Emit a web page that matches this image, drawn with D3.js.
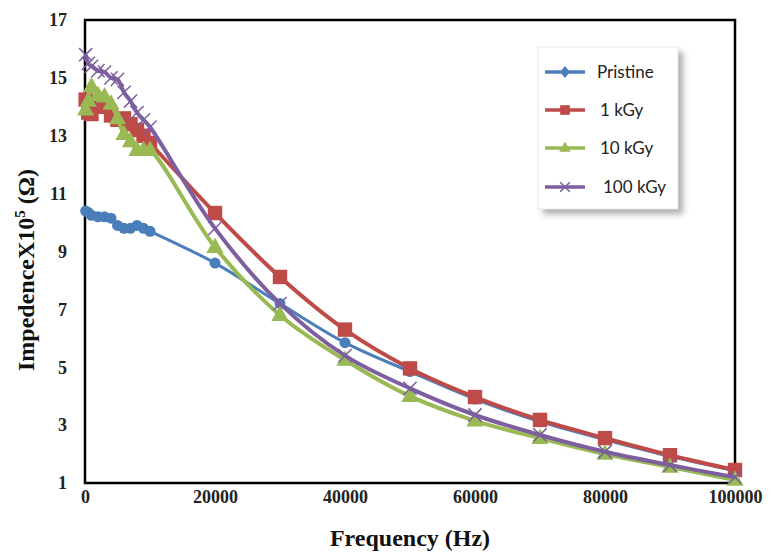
<!DOCTYPE html>
<html><head><meta charset="utf-8">
<script src="https://cdn.jsdelivr.net/npm/d3@7"></script>
<style>body{margin:0;background:#fff;} svg{display:block;}</style>
</head><body>
<script>
const frequencies = [100, 500, 1000, 2000, 3000, 4000, 5000, 6000, 7000, 8000, 9000, 10000,
  20000, 30000, 40000, 50000, 60000, 70000, 80000, 90000, 100000];
const pristine = [10.4, 10.35, 10.25, 10.2, 10.2, 10.15, 9.9, 9.8, 9.8, 9.9, 9.8, 9.7,
  8.6, 7.2, 5.85, 4.85, 3.9, 3.12, 2.5, 1.92, 1.42];
const kGy1 = [14.25, 13.8, 13.75, 14.1, 14.0, 13.7, 13.55, 13.6, 13.4, 13.2, 13.0, 12.75,
  10.33, 8.12, 6.3, 4.96, 3.97, 3.18, 2.55, 1.96, 1.45];
const kGy10 = [13.9, 14.2, 14.7, 14.4, 14.35, 14.1, 13.6, 13.05, 12.8, 12.5, 12.5, 12.5,
  9.15, 6.8, 5.25, 4.0, 3.15, 2.55, 2.0, 1.55, 1.1];
const kGy100 = [15.8, 15.5, 15.4, 15.25, 15.2, 15.0, 14.95, 14.5, 14.2, 13.8, 13.55, 13.3,
  9.8, 7.2, 5.4, 4.27, 3.35, 2.66, 2.08, 1.62, 1.2];
const seriesNames = ["Pristine", "1 kGy", "10 kGy", "100 kGy"];
const seriesColors = ["#4a7ebb", "#be4b48", "#98b954", "#7d5fa0"];
const xTicks = [0, 20000, 40000, 60000, 80000, 100000];
const yTicks = [1, 3, 5, 7, 9, 11, 13, 15, 17];

const W = 771, H = 552;
const svg = d3.select("body").append("svg").attr("width", W).attr("height", H);
const defs = svg.append("defs");
const f = defs.append("filter").attr("id", "blur").attr("x", "-20%").attr("y", "-20%").attr("width", "140%").attr("height", "140%");
f.append("feGaussianBlur").attr("stdDeviation", 3);

const x = d3.scaleLinear().domain([0, 100000]).range([85, 735]);
const y = d3.scaleLinear().domain([1, 17]).range([483, 20]);

const allSeries = [pristine, kGy1, kGy10, kGy100];

const xAxis = d3.axisBottom(x).tickValues(xTicks).tickSize(0).tickPadding(7).tickFormat(d3.format("d"));
const gx = svg.append("g").attr("transform", "translate(0,483)").call(xAxis);
gx.select(".domain").remove();
gx.selectAll("text").attr("font-family", "Liberation Serif").attr("font-weight", "bold")
  .attr("font-size", 18).attr("fill", "#222");
const yAxis = d3.axisLeft(y).tickValues(yTicks).tickSize(0).tickPadding(18);
const gy = svg.append("g").attr("transform", "translate(85,0)").call(yAxis);
gy.select(".domain").remove();
gy.selectAll("text").attr("font-family", "Liberation Serif").attr("font-weight", "bold")
  .attr("font-size", 18).attr("fill", "#222");

svg.append("rect").attr("x", 85).attr("y", 20).attr("width", 650).attr("height", 463)
  .attr("fill", "none").attr("stroke", "#000").attr("stroke-width", 2.5);

svg.append("text").attr("x", 410).attr("y", 546).attr("text-anchor", "middle")
  .attr("font-family", "Liberation Serif").attr("font-weight", "bold").attr("font-size", 24)
  .attr("fill", "#111").text("Frequency (Hz)");
const yt = svg.append("text").attr("transform", "translate(34,270) rotate(-90)")
  .attr("text-anchor", "middle").attr("font-family", "Liberation Serif").attr("font-weight", "bold")
  .attr("font-size", 24).attr("fill", "#111");
yt.append("tspan").text("ImpedenceX10");
yt.append("tspan").attr("font-size", 15).attr("dy", -9).text("5");
yt.append("tspan").attr("dy", 9).text(" (Ω)");

const line = d3.line().x((d, i) => x(frequencies[i])).y(d => y(d)).curve(d3.curveCatmullRom.alpha(0.5));
const widths = [3, 4, 4, 4];

function marker(g, kind, cx, cy, color, s) {
  if (kind === 0) {
    g.append("circle").attr("cx", cx).attr("cy", cy).attr("r", s * 0.55).attr("fill", color);
  } else if (kind === 1) {
    g.append("rect").attr("x", cx - s * 0.6).attr("y", cy - s * 0.6).attr("width", s * 1.2).attr("height", s * 1.2)
      .attr("fill", color);
  } else if (kind === 2) {
    const r = s * 0.8;
    g.append("path").attr("d", `M${cx},${cy - r}L${cx + r * 0.9},${cy + r * 0.6}L${cx - r * 0.9},${cy + r * 0.6}Z`).attr("fill", color);
  } else {
    const r = s * 0.6;
    g.append("path").attr("d", `M${cx - r},${cy - r}L${cx + r},${cy + r}M${cx - r},${cy + r}L${cx + r},${cy - r}`)
      .attr("stroke", color).attr("stroke-width", 1.5).attr("fill", "none");
  }
}

const sizes = [10, 12, 12, 11];
allSeries.forEach((vals, k) => {
  const g = svg.append("g");
  g.append("path").datum(vals).attr("d", line).attr("fill", "none")
    .attr("stroke", seriesColors[k]).attr("stroke-width", widths[k]);
  vals.forEach((v, i) => marker(g, k, x(frequencies[i]), y(v), seriesColors[k], sizes[k]));
});

// legend
const lg = svg.append("g");
lg.append("rect").attr("x", 543).attr("y", 52).attr("width", 140).attr("height", 162).attr("fill", "#888").attr("opacity", 0.7)
  .attr("filter", "url(#blur)");
lg.append("rect").attr("x", 538).attr("y", 47).attr("width", 140).attr("height", 162).attr("fill", "#fff")
  .attr("stroke", "#e8e8e8").attr("stroke-width", 1);
const ly = [72, 110, 148, 187];
const lx = [597, 600, 600, 603];
seriesNames.forEach((n, k) => {
  lg.append("line").attr("x1", 545).attr("x2", 585).attr("y1", ly[k]).attr("y2", ly[k])
    .attr("stroke", seriesColors[k]).attr("stroke-width", 3.5);
  if (k === 0) {
    lg.append("path").attr("d", `M565,${ly[k] - 6}L570,${ly[k]}L565,${ly[k] + 6}L560,${ly[k]}Z`).attr("fill", seriesColors[k]);
  } else {
    marker(lg, k, 565, ly[k], seriesColors[k], 8);
  }
  lg.append("text").attr("x", lx[k]).attr("y", ly[k] + 6).attr("font-family", "Lato").attr("font-size", 17)
    .attr("fill", "#222").text(n);
});
</script>
</body></html>
